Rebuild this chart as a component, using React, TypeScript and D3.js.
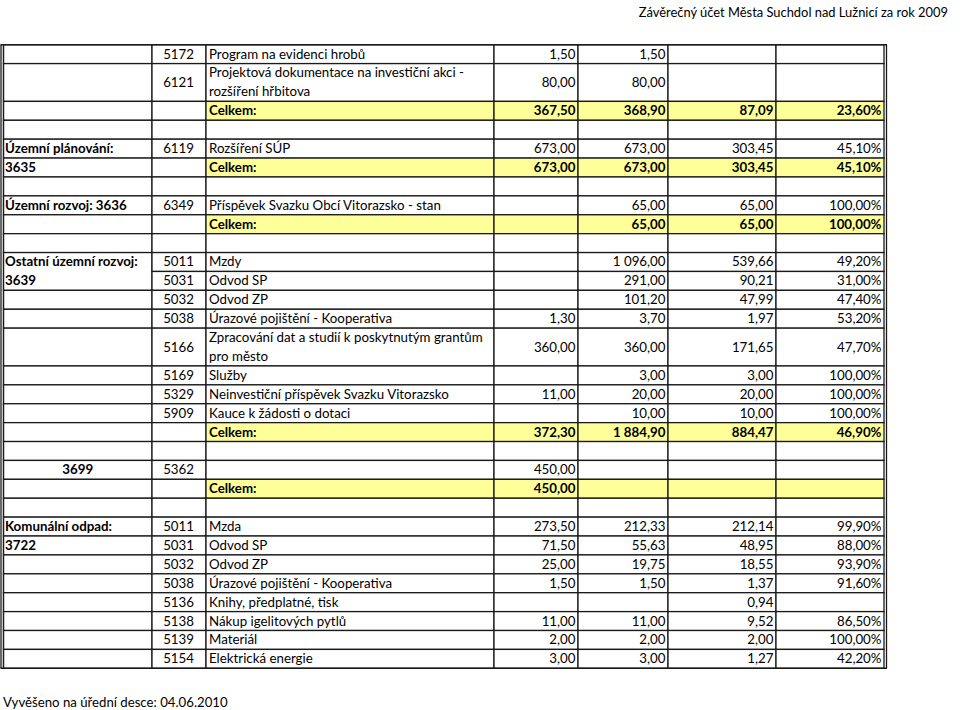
import React, { useEffect, useRef } from "react";
import * as d3 from "d3";

// row kinds: item, total, blank
const rowKind = [
  "item", "item", "total", "blank",
  "item", "total", "blank",
  "item", "total", "blank",
  "item", "item", "item", "item", "item", "item", "item", "item", "total", "blank",
  "item", "total", "blank",
  "item", "item", "item", "item", "item", "item", "item", "item",
];
const rowSpan = [
  1, 2, 1, 1,
  1, 1, 1,
  1, 1, 1,
  1, 1, 1, 1, 2, 1, 1, 1, 1, 1,
  1, 1, 1,
  1, 1, 1, 1, 1, 1, 1, 1,
];
const rowCategory = [
  "", "", "", "",
  "Územní plánování:", "3635", "",
  "Územní rozvoj: 3636", "", "",
  "Ostatní územní rozvoj:", "3639", "", "", "", "", "", "", "", "",
  "3699", "", "",
  "Komunální odpad:", "3722", "", "", "", "", "", "",
];
// category cell that continues into the next row (no divider)
const categoryJoined = [10];
const categoryCentered = [20];
const rowCode = [
  "5172", "6121", "", "",
  "6119", "", "",
  "6349", "", "",
  "5011", "5031", "5032", "5038", "5166", "5169", "5329", "5909", "", "",
  "5362", "", "",
  "5011", "5031", "5032", "5038", "5136", "5138", "5139", "5154",
];
const rowText = [
  ["Program na evidenci hrobů"],
  ["Projektová dokumentace na investiční akci -", "rozšíření hřbitova"],
  ["Celkem:"], [],
  ["Rozšíření SÚP"], ["Celkem:"], [],
  ["Příspěvek Svazku Obcí Vitorazsko - stan"], ["Celkem:"], [],
  ["Mzdy"], ["Odvod SP"], ["Odvod ZP"], ["Úrazové pojištění - Kooperativa"],
  ["Zpracování dat a studií k poskytnutým grantům", "pro město"],
  ["Služby"], ["Neinvestiční příspěvek Svazku Vitorazsko"], ["Kauce k žádosti o dotaci"],
  ["Celkem:"], [],
  [], ["Celkem:"], [],
  ["Mzda"], ["Odvod SP"], ["Odvod ZP"], ["Úrazové pojištění - Kooperativa"],
  ["Knihy, předplatné, tisk"], ["Nákup igelitových pytlů"], ["Materiál"], ["Elektrická energie"],
];
const budgetApproved = [
  "1,50", "80,00", "367,50", "",
  "673,00", "673,00", "",
  "", "", "",
  "", "", "", "1,30", "360,00", "", "11,00", "", "372,30", "",
  "450,00", "450,00", "",
  "273,50", "71,50", "25,00", "1,50", "", "11,00", "2,00", "3,00",
];
const budgetAdjusted = [
  "1,50", "80,00", "368,90", "",
  "673,00", "673,00", "",
  "65,00", "65,00", "",
  "1 096,00", "291,00", "101,20", "3,70", "360,00", "3,00", "20,00", "10,00", "1 884,90", "",
  "", "", "",
  "212,33", "55,63", "19,75", "1,50", "", "11,00", "2,00", "3,00",
];
const actual = [
  "", "", "87,09", "",
  "303,45", "303,45", "",
  "65,00", "65,00", "",
  "539,66", "90,21", "47,99", "1,97", "171,65", "3,00", "20,00", "10,00", "884,47", "",
  "", "", "",
  "212,14", "48,95", "18,55", "1,37", "0,94", "9,52", "2,00", "1,27",
];
const fulfilment = [
  "", "", "23,60%", "",
  "45,10%", "45,10%", "",
  "100,00%", "100,00%", "",
  "49,20%", "31,00%", "47,40%", "53,20%", "47,70%", "100,00%", "100,00%", "100,00%", "46,90%", "",
  "", "", "",
  "99,90%", "88,00%", "93,90%", "91,60%", "", "86,50%", "100,00%", "42,20%",
];

const title = "Závěrečný účet Města Suchdol nad Lužnicí za rok 2009";
const footer = "Vyvěšeno na úřední desce: 04.06.2010";

export default function App() {
  const ref = useRef<SVGSVGElement>(null);

  useEffect(() => {
    const svg = d3.select(ref.current);
    svg.selectAll("*").remove();
    const font = "Lato, 'DejaVu Sans', sans-serif";
    const fs = 13.3;
    const ink = "#1a1a1a";

    const colEdges = [3.5, 152, 206, 494, 578, 668, 776, 884];
    const units: number[] = [];
    let acc = 0;
    rowSpan.forEach((s) => { units.push(acc); acc += s; });
    const y = d3.scaleLinear().domain([0, acc]).range([44.7, 668.3]);

    const values = [budgetApproved, budgetAdjusted, actual, fulfilment];

    // cells
    const g = svg.append("g");
    rowKind.forEach((kind, i) => {
      const top = y(units[i]);
      const bottom = y(units[i] + rowSpan[i]);
      for (let c = 0; c < 7; c++) {
        if (c === 0 && categoryJoined.includes(i - 1)) continue;
        let b = bottom;
        if (c === 0 && categoryJoined.includes(i)) b = y(units[i + 1] + rowSpan[i + 1]);
        g.append("rect")
          .attr("x", colEdges[c])
          .attr("y", top)
          .attr("width", colEdges[c + 1] - colEdges[c])
          .attr("height", b - top)
          .attr("fill", kind === "total" && c >= 2 ? "#ffff99" : "#fff")
          .attr("stroke", ink)
          .attr("stroke-width", 1.3);
      }
    });

    // outer double borders
    const yTop = y(0);
    const yBot = y(acc);
    [[1, 1.3], [colEdges[0], 1.2], [886.5, 1.3]].forEach(([x, w]) =>
      svg.append("line").attr("x1", x).attr("x2", x).attr("y1", yTop).attr("y2", yBot)
        .attr("stroke", ink).attr("stroke-width", w));
    svg.append("line").attr("x1", 0.5).attr("x2", 887).attr("y1", yTop).attr("y2", yTop)
      .attr("stroke", ink).attr("stroke-width", 1.4);
    svg.append("line").attr("x1", 0.5).attr("x2", 887).attr("y1", yBot).attr("y2", yBot)
      .attr("stroke", ink).attr("stroke-width", 1.5);

    const txt = svg.append("g").attr("font-family", font).attr("font-size", fs).attr("fill", "#000");
    const lineBase = (u: number) => y(u + 1) - 5;

    rowKind.forEach((kind, i) => {
      const u = units[i];
      const mid = rowSpan[i] === 2 ? y(u + 1) + 4.5 : lineBase(u);
      const bold = kind === "total";
      if (rowCategory[i]) {
        const centered = categoryCentered.includes(i);
        txt.append("text")
          .attr("x", centered ? (colEdges[0] + colEdges[1]) / 2 : 5)
          .attr("y", lineBase(u))
          .attr("text-anchor", centered ? "middle" : "start")
          .attr("font-weight", "bold")
          .text(rowCategory[i]);
      }
      if (rowCode[i]) {
        txt.append("text").attr("x", colEdges[2] - 12).attr("y", mid)
          .attr("text-anchor", "end").text(rowCode[i]);
      }
      rowText[i].forEach((t, k) => {
        txt.append("text").attr("x", colEdges[2] + 3).attr("y", lineBase(u + k))
          .attr("font-weight", bold ? "bold" : "normal").text(t);
      });
      values.forEach((arr, k) => {
        if (!arr[i]) return;
        txt.append("text").attr("x", colEdges[k + 4] - 2.5).attr("y", mid)
          .attr("text-anchor", "end")
          .attr("font-weight", bold ? "bold" : "normal")
          .text(arr[i]);
      });
    });

    txt.append("text").attr("x", 948).attr("y", 17).attr("text-anchor", "end").attr("font-size", 12.9).text(title);
    txt.append("text").attr("x", 3).attr("y", 707).attr("font-size", 13.2).text(footer);
  }, []);

  return (
    <svg ref={ref} width={960} height={710}
      style={{ position: "absolute", left: 0, top: 0, background: "#fff" }} />
  );
}
